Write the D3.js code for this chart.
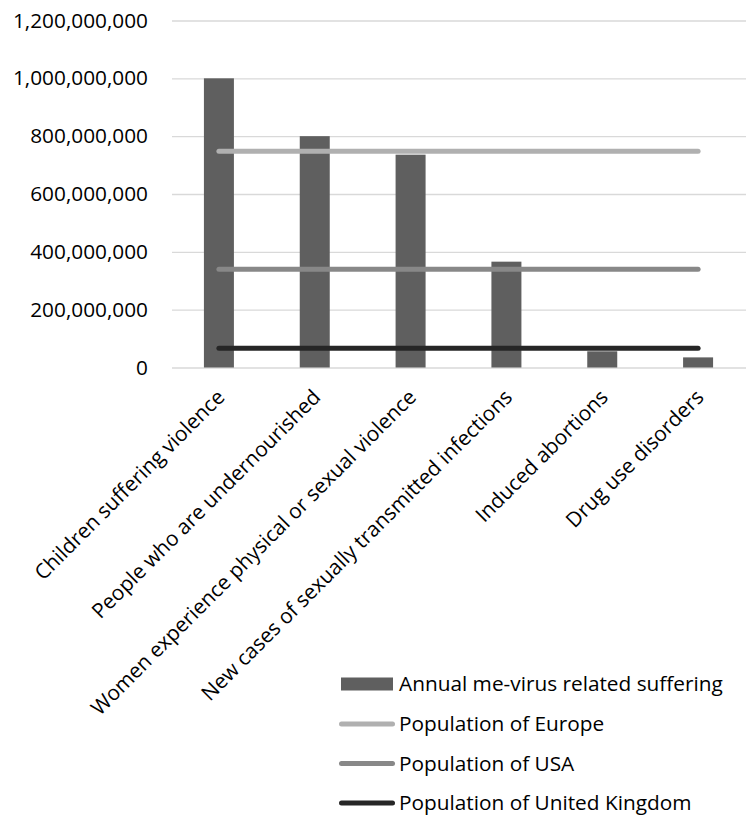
<!DOCTYPE html>
<html>
<head>
<meta charset="utf-8">
<script src="https://cdn.jsdelivr.net/npm/d3@7"></script>
<style>
  html, body { margin: 0; padding: 0; background: #ffffff; }
  svg { display: block; }
  text { font-family: "Open Sans", sans-serif; fill: #000; }
</style>
</head>
<body>
<svg id="chart" width="754" height="828"></svg>
<script>
const categories = [
  "Children suffering violence",
  "People who are undernourished",
  "Women experience physical or sexual violence",
  "New cases of sexually transmitted infections",
  "Induced abortions",
  "Drug use disorders"
];
const sufferingValues = [1000000000, 800000000, 736000000, 366000000, 56000000, 35000000];
const europePopulation = [748000000, 748000000, 748000000, 748000000, 748000000, 748000000];
const usaPopulation = [340000000, 340000000, 340000000, 340000000, 340000000, 340000000];
const ukPopulation = [67000000, 67000000, 67000000, 67000000, 67000000, 67000000];
const yTicks = [0, 200000000, 400000000, 600000000, 800000000, 1000000000, 1200000000];
const seriesNames = [
  "Annual me-virus related suffering",
  "Population of Europe",
  "Population of USA",
  "Population of United Kingdom"
];

const colors = {
  bar: "#5f5f5f",
  europe: "#b0b0b0",
  usa: "#888888",
  uk: "#262626",
  grid: "#d9d9d9"
};
const fontSize = 20.8;
const fontFamily = "'Open Sans', sans-serif";

const svg = d3.select("#chart");

const x = d3.scaleBand()
  .domain(categories)
  .range([171, 746])
  .paddingInner(0.687)
  .paddingOuter(0.3435);

const y = d3.scaleLinear()
  .domain([0, 1200000000])
  .range([367.5, 20.5]);

const fmt = d3.format(",");

// Y axis with gridlines
const yAxis = d3.axisLeft(y)
  .tickValues(yTicks)
  .tickFormat(fmt)
  .tickSizeInner(-(746 - 172))
  .tickSizeOuter(0)
  .tickPadding(24);

const gy = svg.append("g")
  .attr("transform", "translate(172,0)")
  .call(yAxis);
gy.select(".domain").remove();
gy.selectAll(".tick line").attr("stroke", colors.grid).attr("stroke-width", 1.4);
gy.selectAll(".tick text")
  .style("font-size", fontSize + "px")
  .style("font-family", fontFamily)
  .attr("fill", "#000");

// Bars
svg.append("g").selectAll("rect")
  .data(categories.map((c, i) => ({ c, v: sufferingValues[i] })))
  .join("rect")
  .attr("x", d => x(d.c))
  .attr("width", x.bandwidth())
  .attr("y", d => y(d.v))
  .attr("height", d => y(0) - y(d.v))
  .attr("fill", colors.bar);

// Lines
const line = d3.line()
  .x(d => x(d.c) + x.bandwidth() / 2)
  .y(d => y(d.v));

const lineSeries = [
  { vals: europePopulation, color: colors.europe },
  { vals: usaPopulation, color: colors.usa },
  { vals: ukPopulation, color: colors.uk }
];
lineSeries.forEach(s => {
  svg.append("path")
    .datum(categories.map((c, i) => ({ c, v: s.vals[i] })))
    .attr("d", line)
    .attr("fill", "none")
    .attr("stroke", s.color)
    .attr("stroke-width", 5)
    .attr("stroke-linecap", "round")
    .attr("stroke-linejoin", "round");
});

// X axis labels
const xAxis = d3.axisBottom(x).tickSize(0);
const gx = svg.append("g")
  .attr("transform", `translate(0,${y(0)})`)
  .call(xAxis);
gx.select(".domain").remove();
gx.selectAll(".tick text")
  .attr("x", 0)
  .attr("y", 0)
  .attr("dy", 0)
  .attr("text-anchor", "end")
  .attr("transform", "translate(7,31) rotate(-45)")
  .style("font-size", fontSize + "px")
  .style("font-family", fontFamily)
  .attr("fill", "#000");

// Legend
const legendRows = [684, 724, 763.5, 803];
const legend = svg.append("g");
seriesNames.forEach((name, i) => {
  const ry = legendRows[i];
  if (i === 0) {
    legend.append("rect")
      .attr("x", 341).attr("y", ry - 6.5)
      .attr("width", 52).attr("height", 13)
      .attr("fill", colors.bar);
  } else {
    legend.append("line")
      .attr("x1", 341.5).attr("x2", 392.5)
      .attr("y1", ry).attr("y2", ry)
      .attr("stroke", lineSeries[i - 1].color)
      .attr("stroke-width", 5)
      .attr("stroke-linecap", "round");
  }
  legend.append("text")
    .attr("x", 399)
    .attr("y", ry)
    .attr("dy", "0.36em")
    .style("font-size", fontSize + "px")
    .style("font-family", fontFamily)
    .text(name);
});
</script>
</body>
</html>
